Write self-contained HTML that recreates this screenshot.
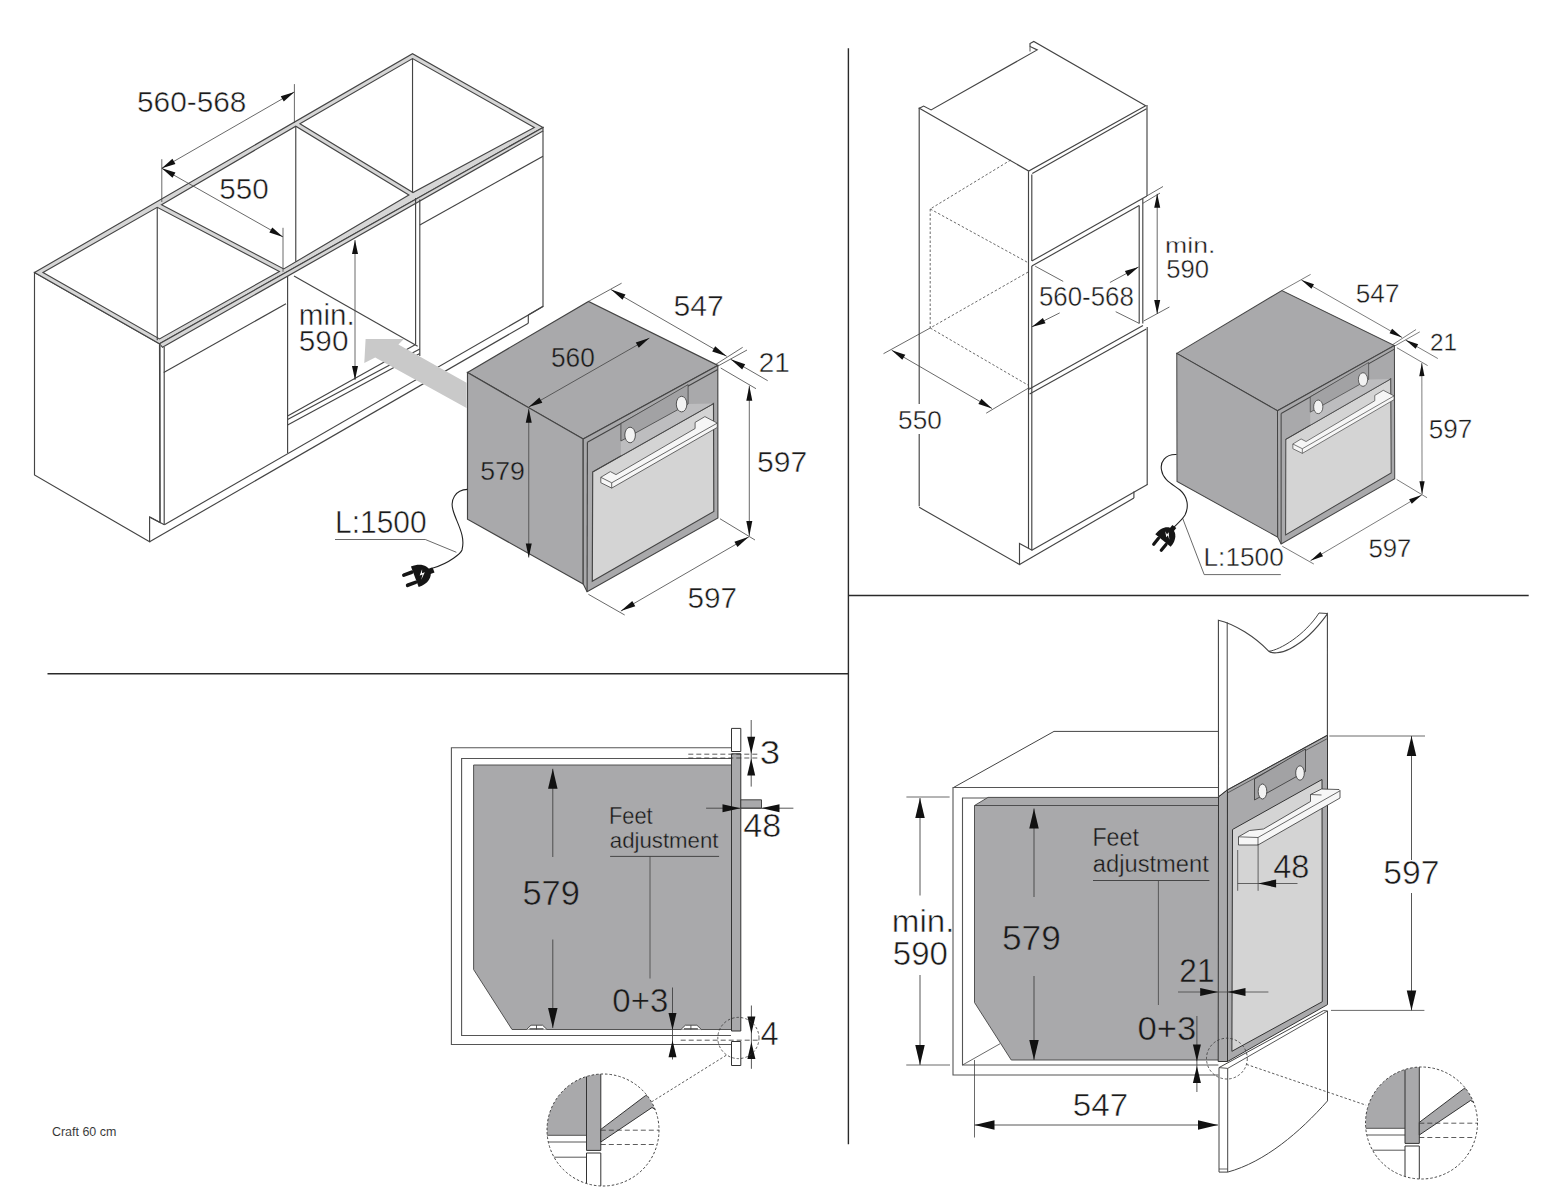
<!DOCTYPE html>
<html><head><meta charset="utf-8"><title>Craft 60 cm</title>
<style>
html,body{margin:0;padding:0;background:#fff;}
body{width:1545px;height:1200px;overflow:hidden;}
svg{display:block;}
text{font-family:"Liberation Sans",sans-serif;}
</style></head><body>
<svg width="1545" height="1200" viewBox="0 0 1545 1200">
<rect x="0" y="0" width="1545" height="1200" fill="#fff"/>
<line x1="47.5" y1="673.7" x2="848.4" y2="673.7" stroke="#2a2a2a" stroke-width="1.4" stroke-linecap="butt"/>
<line x1="848.4" y1="48.2" x2="848.4" y2="1144.3" stroke="#2a2a2a" stroke-width="1.4" stroke-linecap="butt"/>
<line x1="848.4" y1="595.5" x2="1528.7" y2="595.5" stroke="#2a2a2a" stroke-width="1.4" stroke-linecap="butt"/>
<text transform="matrix(0.9863,0,0,1,51.95,1135.60)" x="0" y="0" font-size="12.64" fill="#333" stroke="#fff" stroke-width="0.05">Craft 60 cm</text>
<polygon points="34.5,272.5 159.5,343.75 160,522.5 149.6,516.9 149.6,541.8 34.5,475" fill="#fff" stroke="#444" stroke-width="1.15" stroke-linejoin="miter"/>
<line x1="149.6" y1="516.9" x2="164.4" y2="524.7" stroke="#444" stroke-width="1.15" stroke-linecap="butt"/>
<line x1="149.6" y1="541.8" x2="528.3" y2="323.2" stroke="#444" stroke-width="1.15" stroke-linecap="butt"/>
<line x1="164.4" y1="524.7" x2="543.5" y2="306.3" stroke="#444" stroke-width="1.15" stroke-linecap="butt"/>
<line x1="160" y1="346" x2="160" y2="522.5" stroke="#444" stroke-width="1.15" stroke-linecap="butt"/>
<line x1="164.2" y1="347" x2="164.2" y2="524.7" stroke="#444" stroke-width="1.15" stroke-linecap="butt"/>
<line x1="163.75" y1="372.5" x2="286" y2="303.75" stroke="#444" stroke-width="1.15" stroke-linecap="butt"/>
<line x1="287.6" y1="276" x2="287.6" y2="453" stroke="#444" stroke-width="1.15" stroke-linecap="butt"/>
<polygon points="34.5,272.5 412.5,53.75 543,127.5 159.5,343.75" fill="#d6d6d6" stroke="#444" stroke-width="1.15" stroke-linejoin="miter"/>
<polygon points="42.98,272.5 157.25,207.3 279.39,271.4 159.51,338.92" fill="#fff" stroke="#444" stroke-width="1.15" stroke-linejoin="miter"/>
<polygon points="161.52,204.8 295.77,126.19 408.88,194.99 283.75,268.95" fill="#fff" stroke="#444" stroke-width="1.15" stroke-linejoin="miter"/>
<polygon points="299.91,123.79 412.53,58.59 534.3,127.41 412.98,192.57" fill="#fff" stroke="#444" stroke-width="1.15" stroke-linejoin="miter"/>
<line x1="157.25" y1="207.3" x2="157.25" y2="340.2" stroke="#444" stroke-width="1.15" stroke-linecap="butt"/>
<line x1="295.77" y1="126.19" x2="295.77" y2="261.85" stroke="#444" stroke-width="1.15" stroke-linecap="butt"/>
<line x1="412.53" y1="58.59" x2="412.53" y2="192.81" stroke="#444" stroke-width="1.15" stroke-linecap="butt"/>
<polygon points="159.5,343.75 543,127.5 543,131 162.5,347.3" fill="#d6d6d6" stroke="#444" stroke-width="1.15" stroke-linejoin="miter"/>
<line x1="415.6" y1="198" x2="415.6" y2="344.4" stroke="#444" stroke-width="1.15" stroke-linecap="butt"/>
<line x1="419.8" y1="199.5" x2="419.8" y2="356" stroke="#444" stroke-width="1.15" stroke-linecap="butt"/>
<line x1="543" y1="131" x2="543" y2="306.3" stroke="#444" stroke-width="1.15" stroke-linecap="butt"/>
<line x1="419.8" y1="225" x2="543" y2="156.25" stroke="#444" stroke-width="1.15" stroke-linecap="butt"/>
<line x1="528.3" y1="315" x2="528.3" y2="323.2" stroke="#444" stroke-width="1.15" stroke-linecap="butt"/>
<line x1="528.3" y1="315" x2="543" y2="306.3" stroke="#444" stroke-width="1.15" stroke-linecap="butt"/>
<line x1="294" y1="276" x2="417.7" y2="346.2" stroke="#444" stroke-width="1.15" stroke-linecap="butt"/>
<line x1="287.6" y1="416" x2="415.6" y2="344.4" stroke="#444" stroke-width="1.15" stroke-linecap="butt"/>
<line x1="287.6" y1="419.6" x2="419.8" y2="349" stroke="#444" stroke-width="1.15" stroke-linecap="butt"/>
<line x1="287.6" y1="425" x2="419.8" y2="353.5" stroke="#444" stroke-width="1.15" stroke-linecap="butt"/>
<polygon points="365.6,338.9 403.8,338.9 398.4,344.4 466.5,382.7 466.5,407.9 375.2,357.4 364.3,362.9" fill="#c9c9c9" stroke="none" stroke-linejoin="miter"/>
<line x1="161.8" y1="159.2" x2="161.8" y2="202" stroke="#444" stroke-width="0.8" stroke-linecap="butt"/>
<line x1="294.4" y1="84.1" x2="294.4" y2="123" stroke="#444" stroke-width="0.8" stroke-linecap="butt"/>
<line x1="161.8" y1="168.3" x2="294.4" y2="91.9" stroke="#444" stroke-width="0.8" stroke-linecap="butt"/>
<polygon points="161.8,168.3 172.43,158.71 175.43,163.91" fill="#111" stroke="none" stroke-linejoin="miter"/>
<polygon points="294.4,91.9 283.77,101.49 280.77,96.29" fill="#111" stroke="none" stroke-linejoin="miter"/>
<line x1="283" y1="227.8" x2="283" y2="271.8" stroke="#444" stroke-width="0.8" stroke-linecap="butt"/>
<line x1="161.8" y1="168.3" x2="283" y2="236.9" stroke="#444" stroke-width="0.8" stroke-linecap="butt"/>
<polygon points="161.8,168.3 175.46,172.59 172.51,177.81" fill="#111" stroke="none" stroke-linejoin="miter"/>
<polygon points="283,236.9 269.34,232.61 272.29,227.39" fill="#111" stroke="none" stroke-linejoin="miter"/>
<text transform="matrix(0.9849,0,0,1,137.01,111.90)" x="0" y="0" font-size="30.29" fill="#1a1a1a" stroke="#fff" stroke-width="0.48">560-568</text>
<text transform="matrix(0.9921,0,0,1,219.32,199.30)" x="0" y="0" font-size="29.86" fill="#1a1a1a" stroke="#fff" stroke-width="0.48">550</text>
<line x1="355" y1="240" x2="355" y2="380" stroke="#444" stroke-width="0.8" stroke-linecap="butt"/>
<polygon points="355,240 358,254 352,254" fill="#111" stroke="none" stroke-linejoin="miter"/>
<polygon points="355,380 352,366 358,366" fill="#111" stroke="none" stroke-linejoin="miter"/>
<text transform="matrix(1.0269,0,0,1,298.73,324.69)" x="0" y="0" font-size="28.87" fill="#1a1a1a" stroke="#fff" stroke-width="0.46">min.</text>
<text transform="matrix(0.9963,0,0,1,298.81,350.60)" x="0" y="0" font-size="29.86" fill="#1a1a1a" stroke="#fff" stroke-width="0.48">590</text>
<g id="oven">
<polygon points="467.5,372.5 588.5,301.4 717.8,365.4 583.2,439.1" fill="#a9a9ab" stroke="#444" stroke-width="1.15" stroke-linejoin="miter"/>
<polygon points="467.5,372.5 583.2,439.1 583.2,583.9 467.5,519.2" fill="#a9a9ab" stroke="#444" stroke-width="1.15" stroke-linejoin="miter"/>
<polygon points="583.2,439.1 717.8,365.4 717.9,517.9 587.1,591.7 583.2,583.9" fill="#a9a9ab" stroke="#444" stroke-width="1.15" stroke-linejoin="miter"/>
<line x1="587.4" y1="442.3" x2="587.1" y2="591.7" stroke="#444" stroke-width="1.15" stroke-linecap="butt"/>
<line x1="587.4" y1="442.3" x2="717.8" y2="369.5" stroke="#444" stroke-width="1.15" stroke-linecap="butt"/>
<polygon points="592.7,471.9 713.5,403.6 713.8,511.4 592.3,581.3" fill="#d4d4d4" stroke="#444" stroke-width="1.15" stroke-linejoin="miter"/>
<polygon points="620.9,441 688.1,404 713.5,403.6 620.9,456" fill="#bdbdbf" stroke="none" stroke-linejoin="miter"/>
<line x1="592.7" y1="471.9" x2="713.5" y2="403.6" stroke="#444" stroke-width="0.9" stroke-linecap="butt"/>
<polygon points="620.9,423.6 688.1,384.6 688.1,404 620.9,441" fill="#a2a2a4" stroke="#444" stroke-width="0.8" stroke-linejoin="miter"/>
<ellipse cx="630.1" cy="435" rx="5.3" ry="7.8" fill="#f2f2f2" stroke="#333" stroke-width="0.8"/>
<ellipse cx="681.6" cy="404.1" rx="5.3" ry="7.8" fill="#f2f2f2" stroke="#333" stroke-width="0.8"/>
<polygon points="600.8,477.3 610.3,471.6 616,474.6 695.1,428.5 695.1,422.4 704.9,416.6 717.3,423.1 717.3,427.4 611.7,488.1 600.8,482.7" fill="#f6f6f6" stroke="#444" stroke-width="0.8" stroke-linejoin="miter"/>
<line x1="600.8" y1="477.3" x2="611.7" y2="482.8" stroke="#444" stroke-width="0.8" stroke-linecap="butt"/>
<line x1="611.7" y1="482.8" x2="717.3" y2="423.1" stroke="#444" stroke-width="0.8" stroke-linecap="butt"/>
<line x1="611.7" y1="482.8" x2="611.7" y2="488.1" stroke="#444" stroke-width="0.8" stroke-linecap="butt"/>
<line x1="588.5" y1="301.4" x2="621.6" y2="283.2" stroke="#444" stroke-width="0.8" stroke-linecap="butt"/>
<line x1="715.3" y1="364.7" x2="742.7" y2="347.3" stroke="#444" stroke-width="0.8" stroke-linecap="butt"/>
<line x1="718" y1="366" x2="747" y2="350" stroke="#444" stroke-width="0.8" stroke-linecap="butt"/>
<line x1="611" y1="289.6" x2="726.7" y2="356.3" stroke="#444" stroke-width="0.8" stroke-linecap="butt"/>
<polygon points="611,289.6 625.49,294.49 622.5,299.69" fill="#111" stroke="none" stroke-linejoin="miter"/>
<polygon points="726.7,356.3 712.21,351.41 715.2,346.21" fill="#111" stroke="none" stroke-linejoin="miter"/>
<line x1="730.7" y1="359.3" x2="767.7" y2="380.7" stroke="#444" stroke-width="0.8" stroke-linecap="butt"/>
<polygon points="730.7,359.3 745.19,364.21 742.18,369.41" fill="#111" stroke="none" stroke-linejoin="miter"/>
<line x1="720.7" y1="368" x2="756" y2="388.7" stroke="#444" stroke-width="0.8" stroke-linecap="butt"/>
<line x1="720" y1="518.75" x2="755" y2="540" stroke="#444" stroke-width="0.8" stroke-linecap="butt"/>
<line x1="749.3" y1="385.7" x2="749.3" y2="536" stroke="#444" stroke-width="0.8" stroke-linecap="butt"/>
<polygon points="749.3,385.7 752.3,400.7 746.3,400.7" fill="#111" stroke="none" stroke-linejoin="miter"/>
<polygon points="749.3,536 746.3,521 752.3,521" fill="#111" stroke="none" stroke-linejoin="miter"/>
<line x1="588.4" y1="594.3" x2="624.7" y2="615" stroke="#444" stroke-width="0.8" stroke-linecap="butt"/>
<line x1="620.8" y1="611.1" x2="748.9" y2="536.8" stroke="#444" stroke-width="0.8" stroke-linecap="butt"/>
<polygon points="620.8,611.1 632.27,600.98 635.28,606.17" fill="#111" stroke="none" stroke-linejoin="miter"/>
<polygon points="748.9,536.8 737.43,546.92 734.42,541.73" fill="#111" stroke="none" stroke-linejoin="miter"/>
<text transform="matrix(1.0141,0,0,1,673.49,315.90)" x="0" y="0" font-size="29.71" fill="#1a1a1a" stroke="#fff" stroke-width="0.48">547</text>
<text transform="matrix(1.0120,0,0,1,758.82,371.68)" x="0" y="0" font-size="27.65" fill="#1a1a1a" stroke="#fff" stroke-width="0.44">21</text>
<text transform="matrix(0.9973,0,0,1,757.00,471.80)" x="0" y="0" font-size="30.14" fill="#1a1a1a" stroke="#fff" stroke-width="0.48">597</text>
<text transform="matrix(1.0039,0,0,1,687.42,607.60)" x="0" y="0" font-size="29.57" fill="#1a1a1a" stroke="#fff" stroke-width="0.47">597</text>
</g>
<line x1="528.7" y1="407.1" x2="649.4" y2="338.1" stroke="#444" stroke-width="0.8" stroke-linecap="butt"/>
<polygon points="528.7,407.1 539.37,397.55 542.34,402.76" fill="#111" stroke="none" stroke-linejoin="miter"/>
<polygon points="649.4,338.1 638.73,347.65 635.76,342.44" fill="#111" stroke="none" stroke-linejoin="miter"/>
<line x1="528.75" y1="408.75" x2="528.75" y2="557.5" stroke="#444" stroke-width="0.8" stroke-linecap="butt"/>
<polygon points="528.75,408.75 531.75,422.75 525.75,422.75" fill="#111" stroke="none" stroke-linejoin="miter"/>
<polygon points="528.75,557.5 525.75,543.5 531.75,543.5" fill="#111" stroke="none" stroke-linejoin="miter"/>
<text transform="matrix(0.9759,0,0,1,550.88,366.50)" x="0" y="0" font-size="26.96" fill="#1a1a1a" stroke="#a9a9ab" stroke-width="0.43">560</text>
<text transform="matrix(1.0134,0,0,1,480.36,479.70)" x="0" y="0" font-size="26.38" fill="#1a1a1a" stroke="#a9a9ab" stroke-width="0.42">579</text>
<text transform="matrix(0.9788,0,0,1,335.11,532.90)" x="0" y="0" font-size="30.58" fill="#1a1a1a" stroke="#fff" stroke-width="0.49">L:1500</text>
<polyline points="335,539.5 425.3,539.5 456.4,552.3" fill="none" stroke="#444" stroke-width="0.8" stroke-linejoin="miter"/>
<path d="M467.5,489.4 C455,490 450,500 453,510 C456,522 466,535 462,550 C461,553 450,563 433,568" fill="none" stroke="#222" stroke-width="1.1"/>
<g transform="translate(414.8,576.8) rotate(-20.6) scale(1.0)"><path d="M0,-11 C10,-11.5 16.5,-6 16.5,0 C16.5,6 10,11.5 0,11 Z" fill="#151515"/><rect x="15" y="-2.8" width="5" height="5.6" fill="#151515"/><rect x="-11.5" y="-7.2" width="12" height="3.6" rx="1.8" fill="#151515"/><rect x="-11.5" y="3.6" width="12" height="3.6" rx="1.8" fill="#151515"/><path d="M9.5,-4.5 L5,0.6 L8,0.6 L5,5 L11,-0.8 L8,-0.8 Z" fill="#fff"/></g>
<polygon points="919.4,108.3 923.6,106.1 931.1,109.9 1037.2,49.9 1030,46.5 1030,43.5 1033.8,41.4 1145.7,105.7 1028.7,171" fill="#fff" stroke="#444" stroke-width="1.15" stroke-linejoin="miter"/>
<line x1="1030" y1="46.5" x2="1030" y2="51.5" stroke="#444" stroke-width="0.9" stroke-linecap="butt"/>
<line x1="1032.3" y1="173.5" x2="1146.5" y2="108.8" stroke="#444" stroke-width="1.15" stroke-linecap="butt"/>
<line x1="919.2" y1="107.5" x2="919.2" y2="506.25" stroke="#444" stroke-width="1.15" stroke-linecap="butt"/>
<line x1="1028.5" y1="171.25" x2="1028.5" y2="548.5" stroke="#444" stroke-width="1.15" stroke-linecap="butt"/>
<line x1="1031.8" y1="174.5" x2="1031.8" y2="261.1" stroke="#444" stroke-width="1.15" stroke-linecap="butt"/>
<line x1="1031.8" y1="266.1" x2="1031.8" y2="550.2" stroke="#444" stroke-width="1.15" stroke-linecap="butt"/>
<line x1="1147" y1="105" x2="1147" y2="195.9" stroke="#444" stroke-width="1.15" stroke-linecap="butt"/>
<line x1="1031.8" y1="261.1" x2="1146.9" y2="195.9" stroke="#444" stroke-width="1.15" stroke-linecap="butt"/>
<line x1="1031.8" y1="266.1" x2="1139.2" y2="205.4" stroke="#444" stroke-width="1.15" stroke-linecap="butt"/>
<line x1="1142.8" y1="203.3" x2="1160" y2="193.1" stroke="#444" stroke-width="0.8" stroke-linecap="butt"/>
<line x1="1010.7" y1="160" x2="930.2" y2="209" stroke="#444" stroke-width="0.8" stroke-dasharray="2.5,2" stroke-linecap="butt"/>
<line x1="930.2" y1="209" x2="930.2" y2="328" stroke="#444" stroke-width="0.8" stroke-dasharray="2.5,2" stroke-linecap="butt"/>
<line x1="930.2" y1="209" x2="1028.2" y2="262.7" stroke="#444" stroke-width="0.8" stroke-dasharray="2.5,2" stroke-linecap="butt"/>
<line x1="1028.2" y1="272" x2="930.2" y2="328" stroke="#444" stroke-width="0.8" stroke-dasharray="2.5,2" stroke-linecap="butt"/>
<line x1="930.2" y1="328" x2="1028.2" y2="385.2" stroke="#444" stroke-width="0.8" stroke-dasharray="2.5,2" stroke-linecap="butt"/>
<line x1="1139.2" y1="205.4" x2="1139.2" y2="323.4" stroke="#444" stroke-width="1.15" stroke-linecap="butt"/>
<line x1="1142.8" y1="198.6" x2="1142.8" y2="323.4" stroke="#444" stroke-width="1.15" stroke-linecap="butt"/>
<line x1="1147.2" y1="326.9" x2="1147.2" y2="485" stroke="#444" stroke-width="1.15" stroke-linecap="butt"/>
<line x1="1028.5" y1="389.5" x2="1143" y2="325.6" stroke="#444" stroke-width="1.15" stroke-linecap="butt"/>
<line x1="1029.6" y1="393.9" x2="1146.3" y2="328.9" stroke="#444" stroke-width="1.15" stroke-linecap="butt"/>
<line x1="1031.8" y1="550.2" x2="1147.4" y2="484.6" stroke="#444" stroke-width="1.15" stroke-linecap="butt"/>
<line x1="1133.9" y1="491.5" x2="1133.9" y2="498.1" stroke="#444" stroke-width="1.15" stroke-linecap="butt"/>
<line x1="1133.9" y1="498.1" x2="1019.5" y2="564.5" stroke="#444" stroke-width="1.15" stroke-linecap="butt"/>
<polyline points="919.2,507.3 1019.5,564.5 1019.5,543.5 1032.1,550.2" fill="none" stroke="#444" stroke-width="1.15" stroke-linejoin="miter"/>
<line x1="1035.2" y1="266.2" x2="1063.2" y2="281.4" stroke="#444" stroke-width="0.8" stroke-linecap="butt"/>
<line x1="1115.7" y1="311.7" x2="1139.2" y2="323.4" stroke="#444" stroke-width="0.8" stroke-linecap="butt"/>
<line x1="1031.7" y1="326.9" x2="1059.7" y2="312.9" stroke="#444" stroke-width="0.8" stroke-linecap="butt"/>
<polygon points="1031.7,326.9 1042.88,317.96 1045.56,323.32" fill="#111" stroke="none" stroke-linejoin="miter"/>
<line x1="1138.6" y1="266.9" x2="1109.9" y2="282.5" stroke="#444" stroke-width="0.8" stroke-linecap="butt"/>
<polygon points="1138.6,266.9 1127.73,276.22 1124.87,270.95" fill="#111" stroke="none" stroke-linejoin="miter"/>
<text transform="matrix(0.9550,0,0,1,1038.91,305.80)" x="0" y="0" font-size="27.10" fill="#1a1a1a" stroke="#fff" stroke-width="0.43">560-568</text>
<line x1="883.5" y1="353.7" x2="930.2" y2="328" stroke="#444" stroke-width="0.8" stroke-linecap="butt"/>
<line x1="986.2" y1="413.2" x2="1029.4" y2="387.5" stroke="#444" stroke-width="0.8" stroke-linecap="butt"/>
<line x1="891.7" y1="350.2" x2="992" y2="408.5" stroke="#444" stroke-width="0.8" stroke-linecap="butt"/>
<polygon points="891.7,350.2 905.31,354.64 902.3,359.83" fill="#111" stroke="none" stroke-linejoin="miter"/>
<polygon points="992,408.5 978.39,404.06 981.4,398.87" fill="#111" stroke="none" stroke-linejoin="miter"/>
<rect x="897" y="404" width="46" height="30" fill="#fff"/>
<text transform="matrix(0.9925,0,0,1,898.09,428.60)" x="0" y="0" font-size="26.38" fill="#1a1a1a" stroke="#fff" stroke-width="0.42">550</text>
<line x1="1146.9" y1="195.9" x2="1163" y2="186.5" stroke="#444" stroke-width="0.8" stroke-linecap="butt"/>
<line x1="1143.7" y1="321" x2="1169.4" y2="307" stroke="#444" stroke-width="0.8" stroke-linecap="butt"/>
<line x1="1157.2" y1="193.8" x2="1157.2" y2="314" stroke="#444" stroke-width="0.8" stroke-linecap="butt"/>
<polygon points="1157.2,193.8 1160.2,207.8 1154.2,207.8" fill="#111" stroke="none" stroke-linejoin="miter"/>
<polygon points="1157.2,314 1154.2,300 1160.2,300" fill="#111" stroke="none" stroke-linejoin="miter"/>
<text transform="matrix(1.2267,0,0,1,1165.07,253.22)" x="0" y="0" font-size="21.69" fill="#1a1a1a" stroke="#fff" stroke-width="0.35">min.</text>
<text transform="matrix(1.0063,0,0,1,1166.32,278.30)" x="0" y="0" font-size="25.51" fill="#1a1a1a" stroke="#fff" stroke-width="0.41">590</text>
<use href="#oven" transform="matrix(0.8695,-0.00667,0.00163,0.8731,769.68,31.27)"/>
<text transform="matrix(1.0284,0,0,1,1203.54,565.70)" x="0" y="0" font-size="25.51" fill="#1a1a1a" stroke="#fff" stroke-width="0.41">L:1500</text>
<polyline points="1280.8,574.6 1204.2,574.6 1182.5,518" fill="none" stroke="#444" stroke-width="0.8" stroke-linejoin="miter"/>
<path d="M1176.5,454.5 C1165,454 1160,462 1161.5,470 C1163,480 1172,484 1180,490 C1188,497 1189,507 1185,515 C1182,520 1177,524 1173,528" fill="none" stroke="#222" stroke-width="1.1"/>
<g transform="translate(1163,540.5) rotate(-51) scale(0.9)"><path d="M0,-11 C10,-11.5 16.5,-6 16.5,0 C16.5,6 10,11.5 0,11 Z" fill="#151515"/><rect x="15" y="-2.8" width="5" height="5.6" fill="#151515"/><rect x="-11.5" y="-7.2" width="12" height="3.6" rx="1.8" fill="#151515"/><rect x="-11.5" y="3.6" width="12" height="3.6" rx="1.8" fill="#151515"/><path d="M9.5,-4.5 L5,0.6 L8,0.6 L5,5 L11,-0.8 L8,-0.8 Z" fill="#fff"/></g>
<polyline points="731,747.8 451.4,747.8 451.4,1044.5 731,1044.5" fill="none" stroke="#555" stroke-width="1.1" stroke-linejoin="miter"/>
<polyline points="731,758.5 461.6,758.5 461.6,1035.5 731,1035.5" fill="none" stroke="#555" stroke-width="1.1" stroke-linejoin="miter"/>
<polygon points="473.6,765 731,765 731,1029.5 512,1029.5 473.6,969.5" fill="#a9a9ab" stroke="none" stroke-linejoin="miter"/>
<polyline points="731,765 473.6,765 473.6,969.5 512,1029.5 731,1029.5" fill="none" stroke="#444" stroke-width="0.9" stroke-linejoin="miter"/>
<path d="M526.5,1029.5 L531.0,1025.2 L542.5,1025.2 L547.0,1029.5" fill="#fff" stroke="#444" stroke-width="0.9"/>
<line x1="536.5" y1="1025.2" x2="536.5" y2="1029.5" stroke="#444" stroke-width="0.9" stroke-linecap="butt"/>
<line x1="529.5" y1="1028.9" x2="543.5" y2="1028.9" stroke="#444" stroke-width="1.3" stroke-linecap="butt"/>
<path d="M680.9,1029.5 L685.4,1025.2 L696.9,1025.2 L701.4,1029.5" fill="#fff" stroke="#444" stroke-width="0.9"/>
<line x1="690.9" y1="1025.2" x2="690.9" y2="1029.5" stroke="#444" stroke-width="0.9" stroke-linecap="butt"/>
<line x1="683.9" y1="1028.9" x2="697.9" y2="1028.9" stroke="#444" stroke-width="1.3" stroke-linecap="butt"/>
<polygon points="731.5,753.8 740.8,753.8 740.8,1031 731.5,1031" fill="#a9a9ab" stroke="#333" stroke-width="1.0" stroke-linejoin="miter"/>
<polygon points="731.5,728.4 740.8,728.4 740.8,751.5 731.5,751.5" fill="#fff" stroke="#333" stroke-width="1.0" stroke-linejoin="miter"/>
<polygon points="731.5,1041.5 740.8,1041.5 740.8,1065.5 731.5,1065.5" fill="#fff" stroke="#333" stroke-width="1.0" stroke-linejoin="miter"/>
<polygon points="740.8,799.8 761.5,799.8 761.5,808.2 740.8,808.2" fill="#a9a9ab" stroke="#333" stroke-width="0.9" stroke-linejoin="miter"/>
<line x1="552.8" y1="768.8" x2="552.8" y2="857" stroke="#444" stroke-width="0.9" stroke-linecap="butt"/>
<polygon points="552.8,768.8 557.55,788.8 548.05,788.8" fill="#111" stroke="none" stroke-linejoin="miter"/>
<line x1="552.8" y1="939.5" x2="552.8" y2="1028" stroke="#444" stroke-width="0.9" stroke-linecap="butt"/>
<polygon points="552.8,1028 548.05,1008 557.55,1008" fill="#111" stroke="none" stroke-linejoin="miter"/>
<text transform="matrix(1.0083,0,0,1,522.38,905.40)" x="0" y="0" font-size="34.20" fill="#1a1a1a" stroke="#a9a9ab" stroke-width="0.55">579</text>
<text transform="matrix(0.9287,0,0,1,608.93,824.00)" x="0" y="0" font-size="23.53" fill="#1a1a1a" stroke="#a9a9ab" stroke-width="0.38">Feet</text>
<text transform="matrix(1.0332,0,0,1,609.79,847.90)" x="0" y="0" font-size="21.52" fill="#1a1a1a" stroke="#a9a9ab" stroke-width="0.34">adjustment</text>
<line x1="610.1" y1="856.4" x2="719.1" y2="856.4" stroke="#3a3a3a" stroke-width="0.9" stroke-linecap="butt"/>
<line x1="650" y1="856.1" x2="650" y2="978.5" stroke="#444" stroke-width="0.8" stroke-linecap="butt"/>
<text transform="matrix(1.0126,0,0,1,612.35,1011.50)" x="0" y="0" font-size="32.61" fill="#1a1a1a" stroke="#a9a9ab" stroke-width="0.52">0+3</text>
<line x1="672.5" y1="987.5" x2="672.5" y2="1059.5" stroke="#444" stroke-width="0.9" stroke-linecap="butt"/>
<polygon points="672.5,1030 668.5,1013 676.5,1013" fill="#111" stroke="none" stroke-linejoin="miter"/>
<polygon points="672.5,1040.2 676.5,1057.2 668.5,1057.2" fill="#111" stroke="none" stroke-linejoin="miter"/>
<line x1="680.7" y1="1040.2" x2="760" y2="1040.2" stroke="#333" stroke-width="0.8" stroke-dasharray="5,3" stroke-linecap="butt"/>
<line x1="751.2" y1="720" x2="751.2" y2="786.6" stroke="#444" stroke-width="0.9" stroke-linecap="butt"/>
<polygon points="751.2,753.8 747.2,736.8 755.2,736.8" fill="#111" stroke="none" stroke-linejoin="miter"/>
<polygon points="751.2,758.5 755.2,775.5 747.2,775.5" fill="#111" stroke="none" stroke-linejoin="miter"/>
<line x1="688.3" y1="754.2" x2="758" y2="754.2" stroke="#333" stroke-width="0.8" stroke-dasharray="5,3" stroke-linecap="butt"/>
<line x1="688.3" y1="758" x2="760" y2="758" stroke="#333" stroke-width="0.8" stroke-dasharray="5,3" stroke-linecap="butt"/>
<text transform="matrix(1.1244,0,0,1,759.67,763.50)" x="0" y="0" font-size="32.61" fill="#1a1a1a" stroke="#fff" stroke-width="0.52">3</text>
<line x1="706.1" y1="808.2" x2="793.4" y2="808.2" stroke="#444" stroke-width="0.9" stroke-linecap="butt"/>
<polygon points="740.5,808.2 722.5,812.2 722.5,804.2" fill="#111" stroke="none" stroke-linejoin="miter"/>
<polygon points="761.5,808.2 779.5,804.2 779.5,812.2" fill="#111" stroke="none" stroke-linejoin="miter"/>
<text transform="matrix(1.0006,0,0,1,743.18,837.30)" x="0" y="0" font-size="34.06" fill="#1a1a1a" stroke="#fff" stroke-width="0.54">48</text>
<line x1="751.4" y1="1005.5" x2="751.4" y2="1068.8" stroke="#444" stroke-width="0.9" stroke-linecap="butt"/>
<polygon points="751.4,1033.5 747.4,1016.5 755.4,1016.5" fill="#111" stroke="none" stroke-linejoin="miter"/>
<polygon points="751.4,1041.9 755.4,1058.9 747.4,1058.9" fill="#111" stroke="none" stroke-linejoin="miter"/>
<text transform="matrix(0.9782,0,0,1,760.52,1044.73)" x="0" y="0" font-size="33.38" fill="#1a1a1a" stroke="#fff" stroke-width="0.53">4</text>
<circle cx="738.4" cy="1038" r="20.6" fill="none" stroke="#333" stroke-width="0.8" stroke-dasharray="2.5,2"/>
<line x1="726.2" y1="1055.3" x2="652" y2="1101.6" stroke="#333" stroke-width="0.8" stroke-dasharray="2.5,2" stroke-linecap="butt"/>
<clipPath id="c1"><circle cx="603" cy="1130" r="56"/></clipPath>
<g clip-path="url(#c1)">
<polygon points="547,1074 586.5,1074 586.5,1135.3 547,1135.3" fill="#a9a9ab" stroke="none" stroke-linejoin="miter"/>
<line x1="547" y1="1135.3" x2="586.5" y2="1135.3" stroke="#444" stroke-width="0.9" stroke-linecap="butt"/>
<line x1="547" y1="1142" x2="586.5" y2="1142" stroke="#444" stroke-width="0.9" stroke-linecap="butt"/>
<line x1="547" y1="1157.2" x2="586.5" y2="1157.2" stroke="#444" stroke-width="0.9" stroke-linecap="butt"/>
<polygon points="586.5,1072 600.8,1072 600.8,1150.4 586.5,1150.4" fill="#a9a9ab" stroke="#333" stroke-width="1.0" stroke-linejoin="miter"/>
<polygon points="586.5,1153 600.8,1153 600.8,1188 586.5,1188" fill="#fff" stroke="#333" stroke-width="1.0" stroke-linejoin="miter"/>
<polygon points="600.8,1129.4 645.4,1095.7 663,1095.7 663,1114 652,1107.5 600.8,1142" fill="#a9a9ab" stroke="#333" stroke-width="1.0" stroke-linejoin="miter"/>
<line x1="600.8" y1="1130.2" x2="659" y2="1130.2" stroke="#333" stroke-width="0.8" stroke-dasharray="5,3" stroke-linecap="butt"/>
<line x1="600.8" y1="1144.5" x2="659" y2="1144.5" stroke="#333" stroke-width="0.8" stroke-dasharray="5,3" stroke-linecap="butt"/>
</g>
<circle cx="603" cy="1130" r="56" fill="none" stroke="#333" stroke-width="0.9" stroke-dasharray="2.5,2"/>
<polyline points="953.5,787.5 1054,731.4 1218.4,731.4" fill="none" stroke="#444" stroke-width="1.0" stroke-linejoin="miter"/>
<polyline points="1218.4,787.5 953,787.5 953,1075 1218.4,1075" fill="none" stroke="#555" stroke-width="1.1" stroke-linejoin="miter"/>
<polyline points="1218.4,798 962.5,798 962.5,1065 1218.4,1065" fill="none" stroke="#555" stroke-width="1.1" stroke-linejoin="miter"/>
<polygon points="974.5,805.5 988,797.4 1218.4,797.4 1218.4,1060 1011.25,1060 974.5,1002.5" fill="#a9a9ab" stroke="none" stroke-linejoin="miter"/>
<polyline points="974.5,1002.5 974.5,805.5 988,797.4 1218.4,797.4" fill="none" stroke="#444" stroke-width="0.9" stroke-linejoin="miter"/>
<line x1="974.5" y1="805.5" x2="1218.4" y2="805.5" stroke="#444" stroke-width="0.9" stroke-linecap="butt"/>
<polyline points="974.5,1002.5 1011.25,1060 1218.4,1060" fill="none" stroke="#444" stroke-width="0.9" stroke-linejoin="miter"/>
<line x1="962.5" y1="1065" x2="1000" y2="1043.75" stroke="#444" stroke-width="0.8" stroke-linecap="butt"/>
<path d="M1218.4,620.2 C1235,624 1255,637 1268.9,651.3 C1275,656 1300,652 1327.4,613.9 L1327.4,735.3 L1227.4,790 L1218.5,797 Z" fill="#fff" stroke="#444" stroke-width="1.1"/>
<path d="M1268.9,651.3 C1280,650 1305,635 1319,613 L1327.4,613.5" fill="none" stroke="#444" stroke-width="1.0"/>
<line x1="1227.2" y1="622.3" x2="1227.2" y2="790" stroke="#444" stroke-width="1.0" stroke-linecap="butt"/>
<polygon points="1227.4,790 1327.5,735.3 1327.5,1004.6 1227.5,1061.5" fill="#a9a9ab" stroke="#333" stroke-width="1.0" stroke-linejoin="miter"/>
<polygon points="1218.5,797 1227.4,790 1227.5,1061.5 1218.2,1061.5" fill="#a9a9ab" stroke="#333" stroke-width="1.0" stroke-linejoin="miter"/>
<line x1="1227.4" y1="793" x2="1327.5" y2="738.5" stroke="#444" stroke-width="0.8" stroke-linecap="butt"/>
<polygon points="1232.5,829.5 1322,779.5 1322.3,1001.7 1231.9,1051.3" fill="#d4d4d4" stroke="#333" stroke-width="1.0" stroke-linejoin="miter"/>
<polygon points="1254.5,779 1305.5,749 1305.5,771.5 1254.5,800" fill="#a2a2a4" stroke="#333" stroke-width="0.8" stroke-linejoin="miter"/>
<ellipse cx="1262.5" cy="791.5" rx="4.3" ry="7.5" fill="#f2f2f2" stroke="#333" stroke-width="0.8"/>
<ellipse cx="1300" cy="773" rx="4.3" ry="7.2" fill="#f2f2f2" stroke="#333" stroke-width="0.8"/>
<polygon points="1238.5,845 1238.5,836.8 1249.5,830.5 1263.5,829 1310.5,801.5 1310.5,794.5 1321.5,789 1339,789.5 1340,790.5 1340,798 1258,845" fill="#f6f6f6" stroke="#333" stroke-width="0.8" stroke-linejoin="miter"/>
<line x1="1238.5" y1="836.8" x2="1258" y2="837.5" stroke="#444" stroke-width="0.8" stroke-linecap="butt"/>
<line x1="1258" y1="837.5" x2="1258" y2="845" stroke="#444" stroke-width="0.8" stroke-linecap="butt"/>
<line x1="1258" y1="837.5" x2="1340" y2="790.8" stroke="#444" stroke-width="0.8" stroke-linecap="butt"/>
<line x1="1310.5" y1="794.5" x2="1321.5" y2="795" stroke="#444" stroke-width="0.8" stroke-linecap="butt"/>
<path d="M1219,1067.6 L1323.5,1010.6 L1327.5,1011 L1327.5,1100.9 C1300,1132 1265,1162 1227.7,1172.1 L1219,1172.1 Z" fill="#fff" stroke="#444" stroke-width="1.0"/>
<line x1="1227.7" y1="1068.4" x2="1227.7" y2="1172.1" stroke="#444" stroke-width="1.0" stroke-linecap="butt"/>
<line x1="1219" y1="1067.6" x2="1227.7" y2="1068.4" stroke="#444" stroke-width="0.9" stroke-linecap="butt"/>
<line x1="1227.7" y1="1068.4" x2="1327.5" y2="1011" stroke="#444" stroke-width="0.9" stroke-linecap="butt"/>
<line x1="1219" y1="1169" x2="1227.7" y2="1169" stroke="#444" stroke-width="0.8" stroke-linecap="butt"/>
<line x1="1329.3" y1="736" x2="1425" y2="736" stroke="#444" stroke-width="0.8" stroke-linecap="butt"/>
<line x1="1331" y1="1010.4" x2="1424.4" y2="1010.4" stroke="#444" stroke-width="0.8" stroke-linecap="butt"/>
<line x1="1411.5" y1="736" x2="1411.5" y2="860" stroke="#444" stroke-width="0.9" stroke-linecap="butt"/>
<polygon points="1411.5,736 1416.25,756 1406.75,756" fill="#111" stroke="none" stroke-linejoin="miter"/>
<line x1="1411.5" y1="893" x2="1411.5" y2="1010.4" stroke="#444" stroke-width="0.9" stroke-linecap="butt"/>
<polygon points="1411.5,1010.4 1406.75,990.4 1416.25,990.4" fill="#111" stroke="none" stroke-linejoin="miter"/>
<text transform="matrix(1.0230,0,0,1,1383.32,884.40)" x="0" y="0" font-size="32.90" fill="#1a1a1a" stroke="#fff" stroke-width="0.53">597</text>
<line x1="906.4" y1="797" x2="949.6" y2="797" stroke="#444" stroke-width="0.8" stroke-linecap="butt"/>
<line x1="906.25" y1="1065" x2="950" y2="1065" stroke="#444" stroke-width="0.8" stroke-linecap="butt"/>
<line x1="920" y1="798" x2="920" y2="895.5" stroke="#444" stroke-width="0.9" stroke-linecap="butt"/>
<polygon points="920,798 924.75,818 915.25,818" fill="#111" stroke="none" stroke-linejoin="miter"/>
<line x1="920" y1="975" x2="920" y2="1065" stroke="#444" stroke-width="0.9" stroke-linecap="butt"/>
<polygon points="920,1065 915.25,1045 924.75,1045" fill="#111" stroke="none" stroke-linejoin="miter"/>
<text transform="matrix(1.0472,0,0,1,891.85,931.57)" x="0" y="0" font-size="31.69" fill="#1a1a1a" stroke="#fff" stroke-width="0.51">min.</text>
<text transform="matrix(0.9782,0,0,1,892.85,964.50)" x="0" y="0" font-size="33.70" fill="#1a1a1a" stroke="#fff" stroke-width="0.54">590</text>
<line x1="1034" y1="808.5" x2="1034" y2="897" stroke="#444" stroke-width="0.9" stroke-linecap="butt"/>
<polygon points="1034,808.5 1038.75,828.5 1029.25,828.5" fill="#111" stroke="none" stroke-linejoin="miter"/>
<line x1="1034" y1="976" x2="1034" y2="1060" stroke="#444" stroke-width="0.9" stroke-linecap="butt"/>
<polygon points="1034,1060 1029.25,1040 1038.75,1040" fill="#111" stroke="none" stroke-linejoin="miter"/>
<text transform="matrix(1.0243,0,0,1,1001.99,950.00)" x="0" y="0" font-size="34.42" fill="#1a1a1a" stroke="#a9a9ab" stroke-width="0.55">579</text>
<text transform="matrix(0.8974,0,0,1,1092.41,846.30)" x="0" y="0" font-size="25.88" fill="#1a1a1a" stroke="#a9a9ab" stroke-width="0.41">Feet</text>
<text transform="matrix(1.0248,0,0,1,1092.81,871.57)" x="0" y="0" font-size="23.15" fill="#1a1a1a" stroke="#a9a9ab" stroke-width="0.37">adjustment</text>
<line x1="1093" y1="880.5" x2="1209.4" y2="880.5" stroke="#3a3a3a" stroke-width="0.9" stroke-linecap="butt"/>
<line x1="1158.4" y1="880.5" x2="1158.4" y2="1005" stroke="#444" stroke-width="0.8" stroke-linecap="butt"/>
<text transform="matrix(1.0656,0,0,1,1137.51,1040.00)" x="0" y="0" font-size="32.61" fill="#1a1a1a" stroke="#a9a9ab" stroke-width="0.52">0+3</text>
<line x1="1196.9" y1="1016" x2="1196.9" y2="1092" stroke="#444" stroke-width="0.9" stroke-linecap="butt"/>
<polygon points="1196.9,1061.5 1192.9,1044.5 1200.9,1044.5" fill="#111" stroke="none" stroke-linejoin="miter"/>
<polygon points="1196.9,1066 1200.9,1083 1192.9,1083" fill="#111" stroke="none" stroke-linejoin="miter"/>
<line x1="1178" y1="992" x2="1268.4" y2="992" stroke="#444" stroke-width="0.8" stroke-linecap="butt"/>
<polygon points="1218.2,992 1200.2,996 1200.2,988" fill="#111" stroke="none" stroke-linejoin="miter"/>
<polygon points="1227.5,992 1245.5,988 1245.5,996" fill="#111" stroke="none" stroke-linejoin="miter"/>
<text transform="matrix(0.9540,0,0,1,1179.36,981.58)" x="0" y="0" font-size="33.09" fill="#1a1a1a" stroke="#a9a9ab" stroke-width="0.53">21</text>
<line x1="1237.7" y1="850" x2="1237.7" y2="890.8" stroke="#444" stroke-width="0.8" stroke-linecap="butt"/>
<line x1="1258.1" y1="844" x2="1258.1" y2="890.8" stroke="#444" stroke-width="0.8" stroke-linecap="butt"/>
<line x1="1237.7" y1="883.5" x2="1297.5" y2="883.5" stroke="#444" stroke-width="0.8" stroke-linecap="butt"/>
<polygon points="1258.1,883.5 1276.1,879.5 1276.1,887.5" fill="#111" stroke="none" stroke-linejoin="miter"/>
<text transform="matrix(0.9632,0,0,1,1273.22,877.70)" x="0" y="0" font-size="33.77" fill="#1a1a1a" stroke="#d4d4d4" stroke-width="0.54">48</text>
<line x1="974.5" y1="1060" x2="974.5" y2="1137.5" stroke="#444" stroke-width="0.8" stroke-linecap="butt"/>
<line x1="974.5" y1="1125" x2="1218" y2="1125" stroke="#444" stroke-width="0.9" stroke-linecap="butt"/>
<polygon points="974.5,1125 994.5,1120.25 994.5,1129.75" fill="#111" stroke="none" stroke-linejoin="miter"/>
<polygon points="1218,1125 1198,1129.75 1198,1120.25" fill="#111" stroke="none" stroke-linejoin="miter"/>
<text transform="matrix(1.0524,0,0,1,1072.84,1115.50)" x="0" y="0" font-size="31.52" fill="#1a1a1a" stroke="#fff" stroke-width="0.50">547</text>
<circle cx="1226.9" cy="1058.6" r="20.4" fill="none" stroke="#333" stroke-width="0.8" stroke-dasharray="2.5,2"/>
<line x1="1246.5" y1="1064.4" x2="1366.1" y2="1105.2" stroke="#333" stroke-width="0.8" stroke-dasharray="2.5,2" stroke-linecap="butt"/>
<clipPath id="c2"><circle cx="1421.5" cy="1123" r="56"/></clipPath>
<g clip-path="url(#c2)">
<polygon points="1365.5,1067 1405,1067 1405,1128.3 1365.5,1128.3" fill="#a9a9ab" stroke="none" stroke-linejoin="miter"/>
<line x1="1365.5" y1="1128.3" x2="1405" y2="1128.3" stroke="#444" stroke-width="0.9" stroke-linecap="butt"/>
<line x1="1365.5" y1="1135" x2="1405" y2="1135" stroke="#444" stroke-width="0.9" stroke-linecap="butt"/>
<line x1="1365.5" y1="1150.2" x2="1405" y2="1150.2" stroke="#444" stroke-width="0.9" stroke-linecap="butt"/>
<polygon points="1405,1065 1419.3,1065 1419.3,1143.4 1405,1143.4" fill="#a9a9ab" stroke="#333" stroke-width="1.0" stroke-linejoin="miter"/>
<polygon points="1405,1146 1419.3,1146 1419.3,1181 1405,1181" fill="#fff" stroke="#333" stroke-width="1.0" stroke-linejoin="miter"/>
<polygon points="1419.3,1122.4 1463.9,1088.7 1481.5,1088.7 1481.5,1107 1470.5,1100.5 1419.3,1135" fill="#a9a9ab" stroke="#333" stroke-width="1.0" stroke-linejoin="miter"/>
<line x1="1419.3" y1="1123.2" x2="1477.5" y2="1123.2" stroke="#333" stroke-width="0.8" stroke-dasharray="5,3" stroke-linecap="butt"/>
<line x1="1419.3" y1="1137.5" x2="1477.5" y2="1137.5" stroke="#333" stroke-width="0.8" stroke-dasharray="5,3" stroke-linecap="butt"/>
</g>
<circle cx="1421.5" cy="1123" r="56" fill="none" stroke="#333" stroke-width="0.9" stroke-dasharray="2.5,2"/>
</svg>
</body></html>
